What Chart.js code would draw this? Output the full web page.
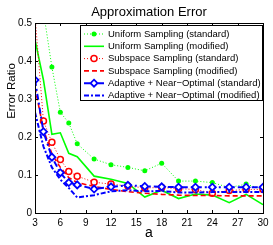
<!DOCTYPE html>
<html>
<head>
<meta charset="utf-8">
<script src="https://cdn.jsdelivr.net/npm/chart.js@4"></script>
<style>
  body { margin: 0; background: #fff; }
  canvas { display: block; }
</style>
</head>
<body>
<canvas id="myChart" width="273" height="245"></canvas>
<script>
// sample sizes (x axis)
const aValues = [3, 4, 5, 6, 7, 8, 10, 12, 14, 16, 18, 20, 22, 24, 26, 28, 30];

// error ratios
const uniformStd = [0.80, 0.53, 0.384, 0.265, 0.237, 0.182, 0.142, 0.127, 0.120, 0.111, 0.131, 0.084, 0.084, 0.080, 0.067, 0.076, 0.062];
const uniformMod = [0.456, 0.35, 0.207, 0.211, 0.157, 0.148, 0.097, 0.089, 0.078, 0.042, 0.060, 0.038, 0.050, 0.047, 0.027, 0.049, 0.022];
const subspaceStd = [0.52, 0.242, 0.186, 0.141, 0.109, 0.097, 0.081, 0.076, 0.071, 0.066, 0.067, 0.064, 0.062, 0.052, 0.059, 0.062, 0.062];
const subspaceMod = [0.33, 0.22, 0.155, 0.12, 0.093, 0.080, 0.070, 0.062, 0.056, 0.052, 0.049, 0.047, 0.046, 0.046, 0.045, 0.045, 0.045];
const adaptiveStd = [0.35, 0.214, 0.147, 0.106, 0.080, 0.074, 0.063, 0.069, 0.073, 0.070, 0.069, 0.068, 0.068, 0.068, 0.068, 0.068, 0.068];
const adaptiveMod = [0.265, 0.175, 0.12, 0.088, 0.066, 0.041, 0.047, 0.057, 0.060, 0.057, 0.058, 0.054, 0.054, 0.055, 0.055, 0.055, 0.055];

const xTicks = [3, 6, 9, 12, 15, 18, 21, 24, 27, 30];
const yTicks = [0, 0.1, 0.2, 0.3, 0.4, 0.5];

function pts(arr) {
  return arr.map((v, i) => ({ x: aValues[i], y: v }));
}

const GREEN = '#00ff00';
const RED = '#ff0000';
const BLUE = '#0000ff';
const FONT = "'Liberation Sans', Arial, Helvetica, sans-serif";

// box around the plot + inward tick marks (matlab style), title and ylabel
const boxPlugin = {
  id: 'box',
  afterDatasetsDraw(chart) {
    const { ctx, chartArea: a, scales } = chart;
    ctx.save();
    ctx.strokeStyle = '#000';
    ctx.lineWidth = 1;
    ctx.strokeRect(Math.round(a.left) + 0.5, Math.round(a.top) + 0.5, Math.round(a.right - a.left), Math.round(a.bottom - a.top));
    ctx.beginPath();
    xTicks.forEach(t => {
      const x = Math.round(scales.x.getPixelForValue(t)) + 0.5;
      ctx.moveTo(x, a.bottom); ctx.lineTo(x, a.bottom - 3);
      ctx.moveTo(x, a.top); ctx.lineTo(x, a.top + 3);
    });
    yTicks.forEach(t => {
      const y = Math.round(scales.y.getPixelForValue(t)) + 0.5;
      ctx.moveTo(a.left, y); ctx.lineTo(a.left + 3, y);
      ctx.moveTo(a.right, y); ctx.lineTo(a.right - 3, y);
    });
    ctx.stroke();

    ctx.fillStyle = '#000';
    ctx.textAlign = 'center';
    ctx.textBaseline = 'middle';
    ctx.font = '13px ' + FONT;
    ctx.fillText('Approximation Error', (a.left + a.right) / 2, 12);

    ctx.translate(12, 91);
    ctx.rotate(-Math.PI / 2);
    ctx.font = '11.5px ' + FONT;
    ctx.fillText('Error Ratio', 0, 0);
    ctx.restore();
  }
};

function drawMarker(ctx, ds, x, y) {
  if (!ds.pointRadius) return;
  const r = ds.pointRadius;
  ctx.save();
  ctx.setLineDash([]);
  ctx.lineWidth = ds.pointBorderWidth;
  ctx.strokeStyle = ds.pointBorderColor;
  ctx.fillStyle = ds.pointBackgroundColor;
  ctx.beginPath();
  if (ds.pointStyle === 'rectRot') {
    ctx.moveTo(x, y - r); ctx.lineTo(x + r, y); ctx.lineTo(x, y + r); ctx.lineTo(x - r, y); ctx.closePath();
  } else {
    ctx.arc(x, y, r, 0, Math.PI * 2);
  }
  ctx.fill();
  if (ds.pointBorderWidth) ctx.stroke();
  ctx.restore();
}

// legend drawn inside the axes, top right
const legendBox = {
  id: 'legendBox',
  afterDraw(chart) {
    const { ctx } = chart;
    const left = 80, top = 25, w = 182, h = 75, rowH = 12.3;
    ctx.save();
    ctx.fillStyle = '#fff';
    ctx.fillRect(left, top, w, h);
    ctx.strokeStyle = '#000';
    ctx.lineWidth = 1;
    ctx.strokeRect(left + 0.5, top + 0.5, w, h);
    ctx.font = '9.5px ' + FONT;
    ctx.textBaseline = 'middle';
    chart.data.datasets.forEach((ds, i) => {
      const y = top + 9 + i * rowH;
      ctx.save();
      ctx.strokeStyle = ds.borderColor;
      ctx.lineWidth = ds.borderWidth;
      ctx.setLineDash(ds.borderDash || []);
      ctx.beginPath();
      ctx.moveTo(84, y); ctx.lineTo(104, y);
      ctx.stroke();
      ctx.restore();
      drawMarker(ctx, ds, 94, y);
      ctx.fillStyle = '#000';
      ctx.fillText(ds.label, 108, y);
    });
    ctx.restore();
  }
};

new Chart('myChart', {
  type: 'line',
  data: {
    datasets: [
      {
        label: 'Uniform Sampling (standard)',
        data: pts(uniformStd),
        borderColor: GREEN, borderWidth: 1, borderDash: [1, 2],
        pointStyle: 'circle', pointRadius: 2.5, pointBorderWidth: 0,
        pointBackgroundColor: GREEN, pointBorderColor: GREEN,
        order: 5
      },
      {
        label: 'Uniform Sampling (modified)',
        data: pts(uniformMod),
        borderColor: GREEN, borderWidth: 1.6,
        pointRadius: 0,
        order: 4
      },
      {
        label: 'Subspace Sampling (standard)',
        data: pts(subspaceStd),
        borderColor: RED, borderWidth: 1, borderDash: [1, 2],
        pointStyle: 'circle', pointRadius: 3, pointBorderWidth: 1.5,
        pointBackgroundColor: '#fff', pointBorderColor: RED,
        order: 3
      },
      {
        label: 'Subspace Sampling (modified)',
        data: pts(subspaceMod),
        borderColor: RED, borderWidth: 1.6, borderDash: [5, 3],
        pointRadius: 0,
        order: 2
      },
      {
        label: 'Adaptive + Near\u2212Optimal (standard)',
        data: pts(adaptiveStd),
        borderColor: BLUE, borderWidth: 2, borderDash: [6, 3, 2, 3],
        pointStyle: 'rectRot', pointRadius: 3.5, pointBorderWidth: 1.8,
        pointBackgroundColor: '#fff', pointBorderColor: BLUE,
        order: 1
      },
      {
        label: 'Adaptive + Near\u2212Optimal (modified)',
        data: pts(adaptiveMod),
        borderColor: BLUE, borderWidth: 2, borderDash: [5, 2, 2, 2],
        pointRadius: 0,
        order: 0
      }
    ]
  },
  options: {
    responsive: false,
    animation: false,
    devicePixelRatio: 1,
    layout: { padding: { left: 0, right: 10, top: 23, bottom: 0 } },
    plugins: {
      legend: { display: false },
      tooltip: { enabled: false },
      title: { display: false }
    },
    scales: {
      x: {
        type: 'linear',
        min: 3, max: 30,
        afterBuildTicks: s => { s.ticks = xTicks.map(v => ({ value: v })); },
        afterFit: s => { s.height = 32; },
        grid: { display: false, drawTicks: false },
        border: { display: false },
        ticks: { color: '#000', padding: 4, maxRotation: 0, autoSkip: false, font: { family: FONT, size: 10 } },
        title: { display: true, text: 'a', color: '#000', font: { family: FONT, size: 14 }, padding: { top: 0, bottom: 3 } }
      },
      y: {
        min: 0, max: 0.5,
        afterBuildTicks: s => { s.ticks = yTicks.map(v => ({ value: v })); },
        afterFit: s => { s.width = 35; },
        grid: { display: false, drawTicks: false },
        border: { display: false },
        ticks: { color: '#000', padding: 3, font: { family: FONT, size: 10 } }
      }
    }
  },
  plugins: [boxPlugin, legendBox]
});
</script>
</body>
</html>
